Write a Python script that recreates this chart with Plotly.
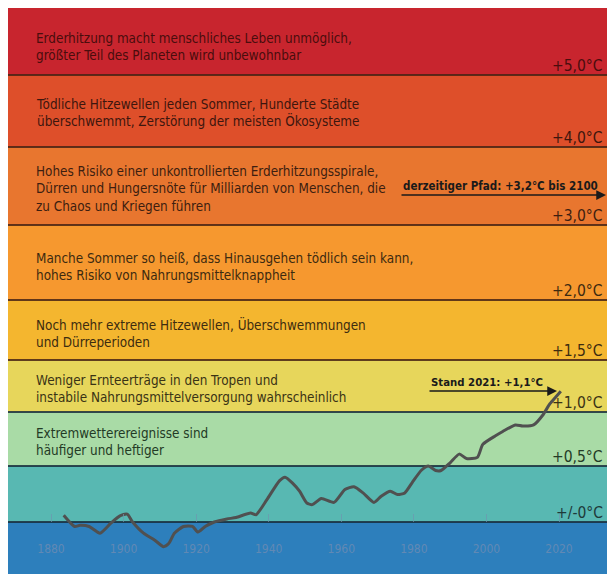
import numpy as np
import plotly.graph_objects as go

# ---------------- data ----------------
years = [1883.5, 1886.5, 1888, 1890.5, 1893.5, 1896.5, 1899, 1901, 1902.5, 1905.5,
         1908.5, 1911, 1912.5, 1914, 1916.5, 1919, 1920.5, 1922.5, 1925, 1928.5,
         1931, 1935, 1936.5, 1939.5, 1943, 1944.5, 1946.5, 1948.5, 1950.5, 1952,
         1954.5, 1958, 1961, 1963.5, 1966, 1969, 1971, 1973.5, 1975.5, 1977.5,
         1979.5, 1982, 1984, 1986, 1987.5, 1990, 1992.5, 1994.5, 1997.5, 1999,
         2002.5, 2004.5, 2008, 2010, 2013, 2015.5, 2017.5, 2019, 2020.5]
anomaly = [0.06, -0.04, -0.03, -0.04, -0.10, -0.01, 0.055, 0.07, 0.0, -0.10,
           -0.16, -0.22, -0.19, -0.10, -0.04, -0.04, -0.09, -0.04, 0.0, 0.027,
           0.04, 0.08, 0.065, 0.20, 0.37, 0.40, 0.35, 0.275, 0.17, 0.155,
           0.21, 0.175, 0.29, 0.315, 0.26, 0.175, 0.23, 0.275, 0.245, 0.26,
           0.35, 0.46, 0.50, 0.46, 0.46, 0.53, 0.61, 0.57, 0.58, 0.70,
           0.78, 0.82, 0.88, 0.87, 0.88, 0.97, 1.08, 1.14, 1.20]

thresholds = [0, 0.5, 1.0, 1.5, 2.0, 3.0, 4.0, 5.0]
threshold_labels = ["+/-0°C", "+0,5°C", "+1,0°C", "+1,5°C", "+2,0°C",
                    "+3,0°C", "+4,0°C", "+5,0°C"]
# text of the band that lies ABOVE each threshold
band_texts = [
    "",
    "Extremwetterereignisse sind<br>häufiger und heftiger",
    "Weniger Ernteerträge in den Tropen und<br>instabile Nahrungsmittelversorgung wahrscheinlich",
    "Noch mehr extreme Hitzewellen, Überschwemmungen<br>und Dürreperioden",
    "Manche Sommer so heiß, dass Hinausgehen tödlich sein kann,<br>hohes Risiko von Nahrungsmittelknappheit",
    "Hohes Risiko einer unkontrollierten Erderhitzungsspirale,<br>Dürren und Hungersnöte für Milliarden von Menschen, die<br>zu Chaos und Kriegen führen",
    "Tödliche Hitzewellen jeden Sommer, Hunderte Städte<br>überschwemmt, Zerstörung der meisten Ökosysteme",
    "Erderhitzung macht menschliches Leben unmöglich,<br>größter Teil des Planeten wird unbewohnbar",
]
tick_years = [1880, 1900, 1920, 1940, 1960, 1980, 2000, 2020]
path_text = "derzeitiger Pfad: +3,2°C bis 2100"
now_text = "Stand 2021: +1,1°C"

# ---------------- layout / style ----------------
# the page body has an 8px margin on every side
OFF = 8
W, H = 615 - 2 * OFF, 574 - OFF
BOTTOM = OFF + H
RIGHT = OFF + W
level_px = [0, 56, 110, 162, 222, 297, 375, 447]
Y_RANGE = [-(BOTTOM - 522), 514]
PX_PER_YEAR = (559 - 51) / 140.0
X_RANGE = [1880 - (51 - OFF) / PX_PER_YEAR, 1880 + (RIGHT - 51) / PX_PER_YEAR]

band_colors = ["#2d7fbc", "#58b8b2", "#a9dba6", "#e7d65b", "#f4b62f",
               "#f6982f", "#e8762f", "#de4f2a", "#c8252e"]
text_colors = ["#1e3a3a", "#233a25", "#3a3315", "#3d2c10", "#3d2a10",
               "#3d1e10", "#3d160e", "#4a0d0d"]
FONT = "Liberation Sans Narrow, DejaVu Sans Condensed, Roboto Condensed, Arial Narrow, sans-serif"


def to_level(t):
    t = np.asarray(t, dtype=float)
    lv = np.interp(t, thresholds, level_px)
    slope0 = (level_px[1] - level_px[0]) / (thresholds[1] - thresholds[0])
    return np.where(t < 0, t * slope0, lv)


def paper_y(px):
    return (BOTTOM - px) / H


def paper_x(px):
    return (px - OFF) / W


levels = list(to_level(thresholds))
edges = [Y_RANGE[0]] + levels + [Y_RANGE[1]]

shapes = []
for i, c in enumerate(band_colors):
    shapes.append(dict(type="rect", xref="paper", yref="y", x0=0, x1=1,
                       y0=edges[i], y1=edges[i + 1], fillcolor=c,
                       line=dict(width=0), layer="below"))
for i, lv in enumerate(levels):
    col = "rgba(25,45,60,0.85)" if i < 3 else "rgba(70,35,20,0.85)"
    shapes.append(dict(type="line", xref="paper", yref="y", x0=0, x1=1,
                       y0=lv, y1=lv, line=dict(color=col, width=2), layer="below"))

fig = go.Figure()
fig.add_trace(go.Scatter(
    x=years, y=to_level(anomaly), mode="lines",
    line=dict(color="#505050", width=3, shape="spline", smoothing=0.6),
    hoverinfo="skip", showlegend=False))

annotations = []
band_centers = [None, 441.5, 388.5, 332.5, 267, 189, 113, 46.5]
for i, txt in enumerate(band_texts):
    if not txt:
        continue
    annotations.append(dict(text=txt, xref="paper", yref="paper",
                            x=paper_x(34), y=paper_y(band_centers[i]),
                            xanchor="left", yanchor="middle", align="left",
                            showarrow=False,
                            font=dict(family=FONT, size=13.4, color=text_colors[i])))
for i, lab in enumerate(threshold_labels):
    annotations.append(dict(text=lab, xref="paper", yref="y",
                            x=paper_x(RIGHT - 2), y=levels[i], xanchor="right",
                            yanchor="bottom", yshift=-2, showarrow=False,
                            font=dict(family=FONT, size=15.5, color=text_colors[i])))
annotations.append(dict(text="<b>" + path_text + "</b>", xref="paper", yref="paper",
                        x=paper_x(500), y=paper_y(186), xanchor="center", yanchor="middle",
                        showarrow=False, font=dict(family=FONT, size=11.5, color="#1a1a1a")))
annotations.append(dict(text="", xref="paper", yref="paper",
                        x=paper_x(RIGHT - 1), y=paper_y(195), ax=-(RIGHT - 1 - 400), ay=0,
                        showarrow=True, arrowhead=2, arrowsize=1.3, arrowwidth=1.5,
                        arrowcolor="#1a1a1a"))
annotations.append(dict(text="<b>" + now_text + "</b>", xref="paper", yref="paper",
                        x=paper_x(487), y=paper_y(382), xanchor="center", yanchor="middle",
                        showarrow=False, font=dict(family=FONT, size=11.3, color="#1a1a1a")))
annotations.append(dict(text="", xref="paper", yref="paper",
                        x=paper_x(557), y=paper_y(391), ax=-129, ay=0,
                        showarrow=True, arrowhead=2, arrowsize=1.3, arrowwidth=1.5,
                        arrowcolor="#1a1a1a"))

fig.update_layout(
    width=W, height=H,
    margin=dict(l=0, r=0, t=0, b=0),
    paper_bgcolor="#ffffff", plot_bgcolor="#2d7fbc",
    shapes=shapes, annotations=annotations, showlegend=False,
    xaxis=dict(range=X_RANGE, anchor="free", position=(0 - Y_RANGE[0]) / (Y_RANGE[1] - Y_RANGE[0]),
               tickvals=tick_years, ticktext=[str(y) for y in tick_years],
               ticks="inside", ticklen=8, tickcolor="rgba(110,150,175,0.7)", tickwidth=1,
               ticklabelstandoff=18, showgrid=False, zeroline=False, showline=False,
               tickfont=dict(family=FONT, size=12, color="#6189b4"), fixedrange=True),
    yaxis=dict(range=Y_RANGE, visible=False, fixedrange=True),
)

fig.write_html("out.html", config={"displayModeBar": False})
